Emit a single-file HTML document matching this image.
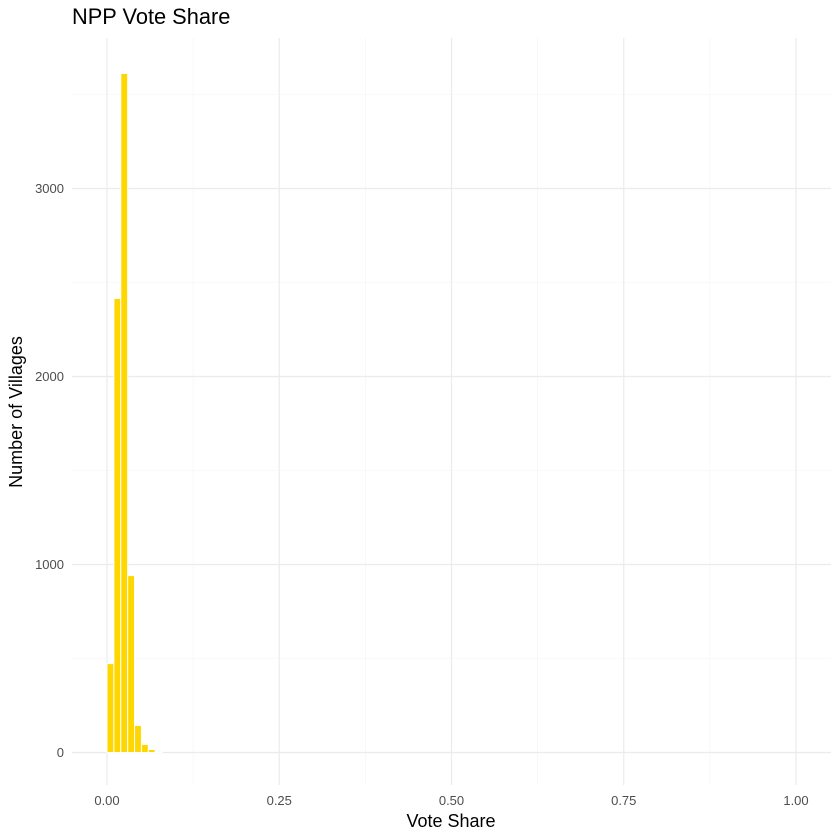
<!DOCTYPE html>
<html><head><meta charset="utf-8"><style>
body{margin:0;background:#fff;font-family:"Liberation Sans",sans-serif;}
svg{display:block}
</style></head><body>
<svg id="chart" width="840" height="840">
<text x="72" y="24" font-size="21.8" fill="#000">NPP Vote Share</text>
<g id="grid"></g><g id="bars"></g><g id="ticks"></g>
<text x="451" y="827" font-size="18" text-anchor="middle">Vote Share</text>
<text transform="translate(22,412) rotate(-90)" font-size="18" text-anchor="middle">Number of Villages</text>
</svg>
<script>
const binStarts=[0,0.01,0.02,0.03,0.04,0.05,0.06,0.07];
const counts=[473,2415,3612,941,144,43,16,4];
const binWidth=0.01;
const xTicks=[0,0.25,0.5,0.75,1];
const xTickLabels=["0.00","0.25","0.50","0.75","1.00"];
const yTicks=[0,1000,2000,3000];
const yTickLabels=["0","1000","2000","3000"];
const NS="http://www.w3.org/2000/svg";
const X0=72,X1=831,Y0=38,Y1=785;
const xs=v=>107+v*689;
const ys=v=>752.5-v*0.188;
function mk(t,a,p){const e=document.createElementNS(NS,t);for(const k in a)e.setAttribute(k,a[k]);p.appendChild(e);return e;}
const grid=document.getElementById('grid'),bars=document.getElementById('bars'),ticks=document.getElementById('ticks');
for(let i=0;i<xTicks.length;i++){
  const l=mk('line',{x1:xs(xTicks[i]),x2:xs(xTicks[i]),y1:Y0,y2:Y1,stroke:'#ebebeb','stroke-width':1.2},grid);
  
  
  if(i<xTicks.length-1){const m=(xTicks[i]+xTicks[i+1])/2;
    const l2=mk('line',{x1:xs(m),x2:xs(m),y1:Y0,y2:Y1,stroke:'#f3f3f3','stroke-width':0.6},grid);
    
    }
  const t=mk('text',{x:xs(xTicks[i]),y:805,'font-size':13,fill:'#4d4d4d','text-anchor':'middle'},ticks);
  t.textContent=xTickLabels[i];
  
  
}
for(let i=0;i<yTicks.length;i++){
  const l=mk('line',{x1:X0,x2:X1,y1:ys(yTicks[i]),y2:ys(yTicks[i]),stroke:'#ebebeb','stroke-width':1.2},grid);
  
  
  const m=yTicks[i]+500;
  const l2=mk('line',{x1:X0,x2:X1,y1:ys(m),y2:ys(m),stroke:'#f3f3f3','stroke-width':0.6},grid);
  
  
  const t=mk('text',{x:64,y:ys(yTicks[i])+4.5,'font-size':13,fill:'#4d4d4d','text-anchor':'end'},ticks);
  t.textContent=yTickLabels[i];
  
  
}
for(let i=0;i<counts.length;i++){
  const x=xs(binStarts[i]),w=xs(binStarts[i]+binWidth)-x;
  const r=mk('rect',{x:x,y:ys(counts[i]),width:w,height:ys(0)-ys(counts[i]),fill:'#FFD700',stroke:'#fff','stroke-width':1},bars);
  
  
}
</script>
</body></html>
